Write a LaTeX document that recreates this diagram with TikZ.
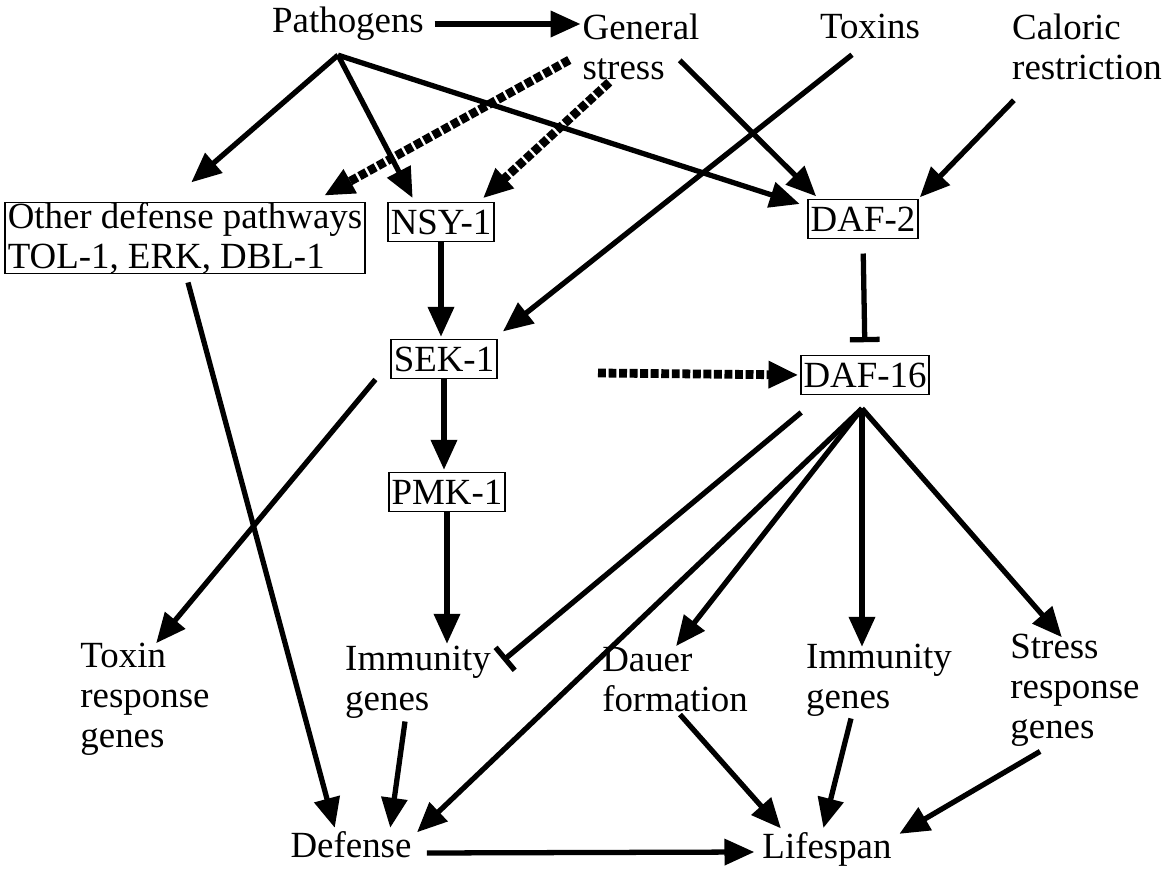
\documentclass[tikz,border=0pt]{standalone}
\usepackage{fontspec}
\setmainfont{Liberation Serif}
\usetikzlibrary{arrows.meta,calc}

\begin{document}
\begin{tikzpicture}[x=0.02cm, y=-0.02cm,
  every node/.style={font=\fontsize{21}{22.7}\selectfont, inner sep=0pt, align=left},
  gene/.style={draw, line width=0.8pt, inner xsep=1.5pt, minimum height=22.5pt},
  act/.style={line width=3pt, -{Triangle[length=17pt,width=14.5pt]}, shorten >=1pt},
  inh/.style={line width=3pt, -{Bar[width=17pt,line width=3pt]}},
  dsh/.style={act, line width=5pt, dash pattern=on 4.5pt off 1.5pt}]
\useasboundingbox (0,0) rectangle (1171,871);

% inputs
\node (P1) at (348,24) {Pathogens};
\node (P2) at (641,47) {General\\stress};
\node (P3) at (870,26) {Toxins};
\node (P4) at (1087,47) {Caloric\\restriction};

% signalling
\node[gene] (P5) at (185,238) {Other defense pathways\\TOL-1, ERK, DBL-1};
\node[gene] (P6) at (441,222) {NSY-1};
\node[gene] (P7) at (863,219) {DAF-2};
\node[gene] (P8) at (444,359) {SEK-1};
\node[gene] (P9) at (865,375) {DAF-16};
\node[gene] (P10) at (447,492) {PMK-1};
\coordinate (P0) at (598,373);

% outputs
\node (P11) at (145,699) {Toxin\\response\\genes};
\node (P12) at (418,682) {Immunity\\genes};
\node (P13) at (675,680) {Dauer\\formation};
\node (P14) at (879,680) {Immunity\\genes};
\node (P15) at (1075,690) {Stress\\response\\genes};
\node (P16) at (351,845) {Defense};
\node (P17) at (827,849) {Lifespan};

\path[act]
(P1.east) edge[shorten <=6pt] (P1.east -| P2.west)
($(P1.south)+(-10,14)$) edge ($(P5.north)+(5,-18)$)
($(P1.south)+(-10,14)$) edge ($(P6.north west)+(26,-2)$)
($(P1.south)+(-10,14)$) edge ($(P7.north west)+(-6,6)$)
($(P2.south east)+(-20,-20)$) edge ($(P7.north west)+(10,-1)$)
($(P3.south)+(-18,16)$) edge ($(P8.north east)+(4,-6)$)
($(P4.south west)+(2,20)$) edge (P7.north east)
(P6.south) edge (P6.south |- P8.north)
(P8.south) edge (P8.south |- P10.north)
(P10.south) edge (P10.south |- P12.north)
($(P8.south west)+(-15,0)$) edge ($(P11.north)+(10,2)$)
($(P5.south)+(3,8)$) edge ($(P16.north west)+(45,-2)$)
($(P12.south)+(-13,3)$) edge ($(P16.north)+(39,-2)$)
($(P9.south)+(-3,13)$) edge ($(P16.north east)+(4,2)$)
($(P9.south)+(-3,13)$) edge (P13.north)
($(P9.south)+(-3,13)$) edge ($(P14.north)+(-17,5)$)
($(P9.south)+(-3,13)$) edge ($(P15.north)+(-12,5)$)
($(P13.south)+(5,2)$) edge ($(P17.north west)+(20,-2)$)
($(P14.south)+(-28,2)$) edge ($(P17.north)+(-4,-2)$)
($(P15.south west)+(30,5)$) edge ($(P17.north east)+(6,3)$)
($(P16.east)+(15,8)$) edge ($(P17.west)+(-6,3)$);

\path[inh]
(P7.south) edge[shorten <=8pt, shorten >=7pt] (P9.north)
($(P9.south west)+(1,17)$) edge ($(P12.north east)+(12,15)$);

\path[dsh]
($(P2.west)+(-13,13)$) edge ($(P5.north east)+(-43,-5)$)
($(P2.south west)+(27,2)$) edge ($(P6.north east)+(-13,-2)$)
(P0) edge (P9.west);
\end{tikzpicture}
\end{document}
